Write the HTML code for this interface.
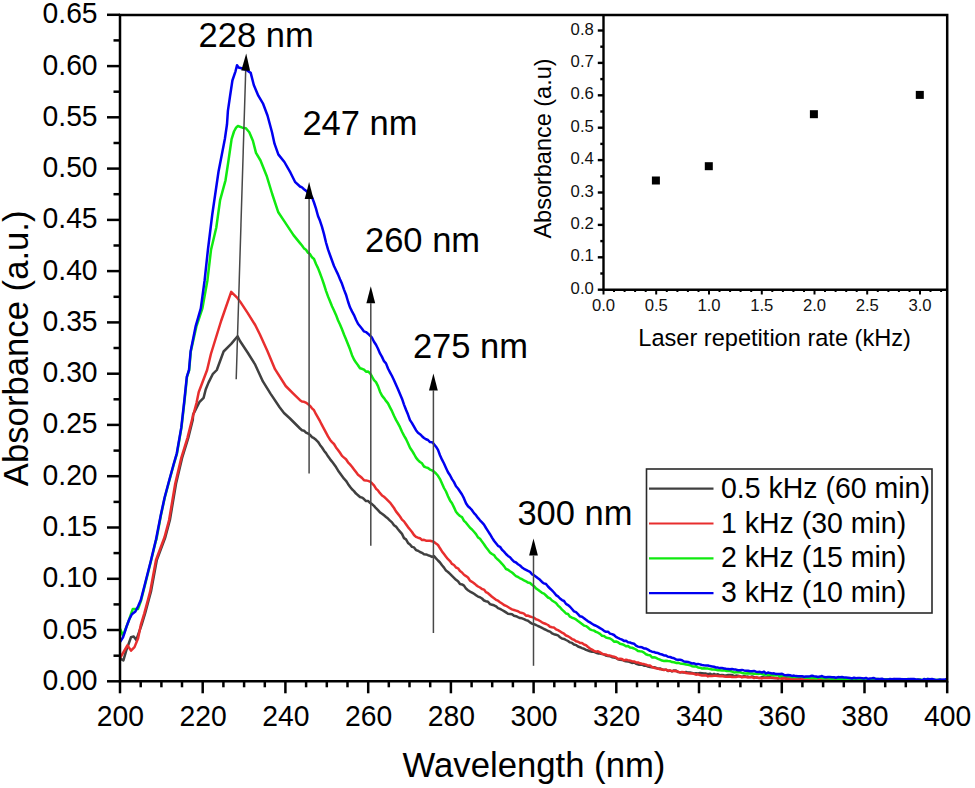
<!DOCTYPE html>
<html><head><meta charset="utf-8"><style>
html,body{margin:0;padding:0;background:#fff;width:975px;height:788px;overflow:hidden}
svg{display:block}
</style></head><body>
<svg width="975" height="788" viewBox="0 0 975 788">
<rect width="975" height="788" fill="#fff"/>
<polyline fill="none" stroke="#404040" stroke-width="2.5" stroke-linejoin="round" stroke-linecap="round" points="120.3,658.6 123.4,660.4 126.5,649.7 131.0,637.3 133.7,636.4 136.3,640.0 141.6,624.9 145.1,613.3 148.7,600.0 151.0,591.4 156.8,560.0 165.3,537.2 169.9,520.0 176.0,483.8 182.1,457.9 188.2,438.1 192.8,419.8 193.1,414.6 199.4,402.1 203.6,397.9 205.7,389.5 208.5,382.6 212.7,374.2 216.8,370.0 223.6,351.5 231.2,343.9 237.6,336.3 240.0,341.0 247.6,352.5 255.2,364.7 262.9,381.4 270.5,393.6 279.6,407.3 284.0,413.0 290.0,418.5 300.0,428.5 302.0,430.3 304.0,430.7 306.0,432.7 308.0,433.5 310.0,434.7 312.0,437.1 314.0,438.2 316.0,439.8 318.0,441.8 320.0,444.9 322.0,447.5 324.0,450.7 326.0,453.1 328.0,456.3 330.0,459.1 332.0,461.6 334.0,464.3 336.0,467.1 338.0,470.4 340.0,473.2 342.0,475.9 344.0,478.7 346.0,480.8 348.0,483.9 350.0,486.7 352.0,489.3 354.0,491.1 356.0,493.6 358.0,495.2 360.0,497.0 362.0,497.6 364.0,499.1 366.0,501.1 368.0,500.9 370.0,502.9 372.0,504.1 374.0,505.9 376.0,508.2 378.0,510.2 380.0,512.4 382.0,513.7 384.0,515.3 386.0,517.0 388.0,518.6 390.0,520.6 392.0,522.4 394.0,525.3 396.0,526.6 398.0,529.2 400.0,531.6 402.0,533.9 404.0,538.1 406.0,539.4 408.0,542.9 410.0,544.5 412.0,546.9 414.0,547.4 416.0,550.1 418.0,550.8 420.0,552.0 422.0,552.8 424.0,554.2 426.0,554.4 428.0,555.2 430.0,555.9 432.0,556.9 434.0,556.1 436.0,558.4 438.0,560.5 440.0,562.5 442.0,565.3 444.0,567.6 446.0,570.6 448.0,572.0 450.0,573.9 452.0,575.9 454.0,577.8 456.0,579.8 458.0,581.3 460.0,584.1 462.0,584.4 464.0,585.6 466.0,588.6 468.0,590.2 470.0,591.6 472.0,592.6 474.0,593.8 476.0,595.2 478.0,596.6 480.0,597.3 482.0,598.5 484.0,600.5 486.0,601.2 488.0,601.8 490.0,604.1 492.0,604.7 494.0,605.3 496.0,606.3 498.0,608.1 500.0,608.9 502.0,610.0 504.0,611.1 506.0,612.4 508.0,613.7 510.0,613.9 512.0,614.2 514.0,615.7 516.0,616.2 518.0,617.2 520.0,618.1 522.0,618.3 524.0,619.1 526.0,620.1 528.0,620.7 530.0,622.4 532.0,623.6 534.0,624.2 536.0,625.0 538.0,626.0 540.0,626.9 542.0,627.9 544.0,629.0 546.0,629.9 548.0,631.0 550.0,631.6 552.0,633.3 554.0,634.2 556.0,634.8 558.0,635.4 560.0,637.2 562.0,638.6 564.0,638.9 566.0,640.0 568.0,641.0 570.0,642.4 572.0,642.9 574.0,644.5 576.0,645.1 578.0,646.5 580.0,647.2 582.0,648.1 584.0,648.7 586.0,649.9 588.0,650.5 590.0,651.3 592.0,651.7 594.0,651.8 596.0,652.7 598.0,653.4 600.0,653.5 602.0,653.9 604.0,654.5 606.0,655.6 608.0,656.1 610.0,656.2 612.0,657.2 614.0,657.5 616.0,658.0 618.0,659.3 620.0,659.8 622.0,659.9 624.0,660.7 626.0,661.3 628.0,661.4 630.0,662.1 632.0,662.9 634.0,662.5 636.0,663.7 638.0,664.4 640.0,664.8 642.0,664.7 644.0,665.7 646.0,665.7 648.0,666.6 650.0,667.0 652.0,667.3 654.0,667.3 656.0,667.8 658.0,668.7 660.0,668.5 662.0,669.4 664.0,669.7 666.0,669.8 668.0,671.0 670.0,670.5 672.0,671.5 674.0,670.4 676.0,670.6 678.0,672.0 680.0,672.2 682.0,672.2 684.0,672.6 686.0,672.0 688.0,672.6 690.0,672.5 692.0,672.9 694.0,673.4 696.0,673.2 698.0,673.4 700.0,673.1 702.0,673.3 704.0,673.6 706.0,673.6 708.0,674.3 710.0,673.7 712.0,674.8 714.0,673.9 716.0,674.8 718.0,674.3 720.0,675.3 722.0,674.9 724.0,675.2 726.0,675.4 728.0,675.1 730.0,675.1 732.0,674.9 734.0,676.2 736.0,675.6 738.0,675.8 740.0,676.2 742.0,677.0 744.0,675.9 746.0,676.7 748.0,676.6 750.0,677.1 752.0,676.4 754.0,677.0 756.0,677.5 758.0,677.8 760.0,677.9 762.0,677.1 764.0,677.5 766.0,677.5 768.0,677.2 770.0,677.2 772.0,678.1 774.0,678.0 776.0,677.9 778.0,678.5 780.0,677.8 782.0,678.4 784.0,678.3 786.0,678.3 788.0,678.6 790.0,678.6 792.0,678.7 794.0,678.8 796.0,679.4 798.0,678.7 800.0,679.3 802.0,679.2 804.0,678.9 806.0,679.3 808.0,678.8 810.0,679.5 812.0,678.8 814.0,678.9 816.0,679.3 818.0,679.5 820.0,679.5 822.0,679.5 824.0,679.1 826.0,678.9 828.0,679.5 830.0,679.4 832.0,679.0 834.0,679.7 836.0,679.4 838.0,679.0 840.0,679.5 842.0,678.9 844.0,679.1 846.0,679.6 848.0,678.9 850.0,679.5 852.0,679.0 854.0,679.8 856.0,679.3 858.0,679.6 860.0,679.1 862.0,679.5 864.0,680.0 866.0,679.8 868.0,679.0 870.0,680.0 872.0,680.0 874.0,679.6 876.0,680.3 878.0,679.4 880.0,679.8 882.0,680.2 884.0,680.3 886.0,680.3 888.0,679.5 890.0,679.3 892.0,680.1 894.0,679.4 896.0,679.9 898.0,679.5 900.0,680.4 902.0,680.3 904.0,680.2 906.0,680.1 908.0,680.1 910.0,680.0 912.0,680.3 914.0,680.2 916.0,680.3 918.0,680.0 920.0,680.5 922.0,680.3 924.0,680.5 926.0,680.5 928.0,680.0 930.0,679.7 932.0,680.5 934.0,680.2 936.0,680.4 938.0,680.3 940.0,680.5 942.0,680.0 944.0,680.4 946.0,680.3"/>
<polyline fill="none" stroke="#e82e2e" stroke-width="2.5" stroke-linejoin="round" stroke-linecap="round" points="120.3,657.7 123.9,651.5 127.4,645.3 131.0,650.6 134.5,647.1 138.1,638.2 140.8,624.9 144.3,613.3 147.9,600.0 150.2,591.4 156.0,560.0 164.5,537.2 169.1,520.0 175.2,483.8 181.3,457.9 187.4,438.1 192.0,419.8 196.5,403.0 198.7,392.3 207.1,370.0 210.9,354.0 221.1,321.0 231.2,291.9 237.6,298.2 240.0,301.4 247.6,312.9 255.2,325.0 259.8,334.2 267.4,351.0 275.0,369.2 285.7,386.0 293.3,393.6 300.0,400.2 302.0,401.6 304.0,401.8 306.0,402.7 308.0,404.1 310.0,405.9 312.0,408.3 314.0,410.2 316.0,414.2 318.0,417.6 320.0,421.2 322.0,425.1 324.0,428.9 326.0,432.6 328.0,436.3 330.0,439.7 332.0,442.1 334.0,444.0 336.0,447.4 338.0,450.0 340.0,452.8 342.0,455.9 344.0,457.6 346.0,459.3 348.0,462.3 350.0,464.4 352.0,466.7 354.0,469.4 356.0,472.1 358.0,474.7 360.0,476.2 362.0,478.0 364.0,480.2 366.0,480.4 368.0,480.9 370.0,481.6 372.0,483.3 374.0,485.3 376.0,488.7 378.0,490.4 380.0,493.2 382.0,495.4 384.0,496.8 386.0,498.6 388.0,500.6 390.0,502.6 392.0,505.2 394.0,508.0 396.0,511.4 398.0,513.9 400.0,516.5 402.0,519.6 404.0,521.4 406.0,524.3 408.0,527.1 410.0,529.5 412.0,532.0 414.0,535.0 416.0,536.9 418.0,537.7 420.0,538.3 422.0,539.9 424.0,539.8 426.0,540.7 428.0,540.7 430.0,540.7 432.0,541.3 434.0,541.9 436.0,543.5 438.0,545.0 440.0,548.3 442.0,551.4 444.0,554.1 446.0,556.7 448.0,559.2 450.0,561.1 452.0,563.9 454.0,565.0 456.0,567.5 458.0,568.3 460.0,571.1 462.0,572.5 464.0,574.8 466.0,576.1 468.0,577.5 470.0,580.7 472.0,581.8 474.0,583.2 476.0,584.9 478.0,586.5 480.0,587.5 482.0,589.0 484.0,589.6 486.0,592.2 488.0,593.2 490.0,595.0 492.0,596.8 494.0,598.3 496.0,599.8 498.0,600.7 500.0,602.2 502.0,603.6 504.0,605.0 506.0,605.8 508.0,607.0 510.0,608.2 512.0,609.4 514.0,610.0 516.0,610.6 518.0,611.2 520.0,612.5 522.0,612.9 524.0,613.6 526.0,615.7 528.0,615.6 530.0,616.5 532.0,617.1 534.0,617.6 536.0,619.3 538.0,619.9 540.0,621.0 542.0,622.3 544.0,623.3 546.0,624.0 548.0,625.0 550.0,626.7 552.0,627.2 554.0,627.6 556.0,629.3 558.0,630.2 560.0,631.3 562.0,632.7 564.0,633.7 566.0,635.5 568.0,636.2 570.0,637.5 572.0,639.1 574.0,639.8 576.0,641.3 578.0,641.7 580.0,642.9 582.0,643.0 584.0,644.5 586.0,645.2 588.0,647.0 590.0,648.6 592.0,649.6 594.0,650.9 596.0,651.7 598.0,651.3 600.0,652.3 602.0,653.8 604.0,654.4 606.0,654.5 608.0,655.6 610.0,655.6 612.0,656.3 614.0,656.7 616.0,657.5 618.0,659.0 620.0,658.8 622.0,659.1 624.0,660.4 626.0,659.8 628.0,660.3 630.0,660.6 632.0,661.3 634.0,661.4 636.0,662.4 638.0,662.4 640.0,663.3 642.0,663.8 644.0,664.1 646.0,664.6 648.0,665.6 650.0,665.5 652.0,667.0 654.0,667.7 656.0,668.3 658.0,668.6 660.0,669.2 662.0,669.3 664.0,670.1 666.0,669.6 668.0,670.7 670.0,670.4 672.0,671.1 674.0,671.1 676.0,671.3 678.0,671.5 680.0,672.5 682.0,671.9 684.0,672.2 686.0,673.0 688.0,673.3 690.0,673.5 692.0,673.4 694.0,673.8 696.0,674.7 698.0,674.3 700.0,675.1 702.0,675.5 704.0,675.6 706.0,675.2 708.0,676.4 710.0,675.9 712.0,676.0 714.0,675.8 716.0,675.7 718.0,676.0 720.0,676.3 722.0,676.0 724.0,676.4 726.0,676.8 728.0,676.7 730.0,676.5 732.0,677.0 734.0,677.1 736.0,677.1 738.0,676.6 740.0,676.3 742.0,677.3 744.0,677.1 746.0,677.1 748.0,677.4 750.0,677.2 752.0,677.2 754.0,678.1 756.0,677.0 758.0,677.9 760.0,678.1 762.0,678.4 764.0,677.9 766.0,678.1 768.0,677.7 770.0,678.1 772.0,677.4 774.0,678.0 776.0,678.3 778.0,678.3 780.0,678.2 782.0,678.9 784.0,678.0 786.0,678.7 788.0,678.5 790.0,678.8 792.0,678.8 794.0,679.6 796.0,678.6 798.0,679.5 800.0,679.6 802.0,679.1 804.0,679.0 806.0,678.8 808.0,678.9 810.0,680.0 812.0,678.5 814.0,679.5 816.0,679.1 818.0,680.0 820.0,679.5 822.0,678.9 824.0,679.2 826.0,679.5 828.0,679.5 830.0,679.1 832.0,679.4 834.0,679.3 836.0,679.7 838.0,679.6 840.0,679.6 842.0,679.4 844.0,679.8 846.0,679.4 848.0,679.3 850.0,679.5 852.0,679.5 854.0,679.6 856.0,679.0 858.0,680.2 860.0,679.9 862.0,680.2 864.0,679.6 866.0,680.0 868.0,679.9 870.0,679.8 872.0,680.5 874.0,679.6 876.0,680.1 878.0,679.3 880.0,680.1 882.0,679.9 884.0,679.6 886.0,679.7 888.0,679.2 890.0,679.6 892.0,680.1 894.0,679.1 896.0,680.4 898.0,680.4 900.0,679.8 902.0,679.6 904.0,679.6 906.0,679.7 908.0,679.9 910.0,680.5 912.0,679.8 914.0,680.5 916.0,680.5 918.0,679.9 920.0,680.2 922.0,680.5 924.0,680.1 926.0,680.5 928.0,680.5 930.0,680.3 932.0,680.1 934.0,680.5 936.0,680.5 938.0,680.2 940.0,680.4 942.0,680.5 944.0,680.5 946.0,680.5"/>
<polyline fill="none" stroke="#10ea10" stroke-width="2.5" stroke-linejoin="round" stroke-linecap="round" points="120.3,629.3 123.0,635.5 126.0,628.0 129.0,620.0 132.8,608.9 138.1,608.9 141.2,600.0 144.8,585.7 151.0,561.0 156.2,539.5 156.3,540.0 161.0,515.0 164.8,497.5 169.3,480.7 173.9,464.0 177.0,453.3 181.5,427.4 184.6,400.0 187.0,376.9 189.2,370.0 190.8,351.5 196.5,326.1 202.4,308.4 207.4,280.5 211.0,250.0 216.3,227.5 220.1,200.1 225.5,180.3 228.5,160.5 231.6,139.1 234.0,131.5 236.1,127.7 237.9,126.0 242.4,127.7 245.9,128.3 249.3,132.3 252.9,140.7 256.0,152.9 260.5,160.5 266.6,175.7 272.2,194.0 278.3,212.3 284.4,221.4 293.5,235.1 300.0,243.1 302.0,245.5 304.0,248.4 306.0,249.7 308.0,252.7 310.0,254.1 312.0,257.3 314.0,259.0 316.0,264.0 318.0,268.1 320.0,273.2 322.0,278.6 324.0,284.5 326.0,290.8 328.0,296.4 330.0,301.3 332.0,306.2 334.0,310.5 336.0,314.9 338.0,320.3 340.0,324.5 342.0,329.3 344.0,334.5 346.0,339.3 348.0,344.3 350.0,349.3 352.0,355.2 354.0,359.5 356.0,362.6 358.0,365.2 360.0,368.2 362.0,368.8 364.0,369.7 366.0,371.7 368.0,371.4 370.0,373.2 372.0,376.5 374.0,380.1 376.0,382.1 378.0,386.1 380.0,391.7 382.0,395.6 384.0,398.1 386.0,400.9 388.0,403.4 390.0,407.4 392.0,411.2 394.0,415.8 396.0,419.9 398.0,423.4 400.0,427.2 402.0,431.7 404.0,435.6 406.0,439.0 408.0,443.2 410.0,447.7 412.0,450.7 414.0,454.0 416.0,457.6 418.0,460.1 420.0,462.0 422.0,463.3 424.0,466.5 426.0,467.4 428.0,468.0 430.0,469.6 432.0,470.4 434.0,471.6 436.0,473.5 438.0,475.8 440.0,479.1 442.0,483.5 444.0,488.0 446.0,491.5 448.0,496.2 450.0,500.4 452.0,503.2 454.0,507.4 456.0,511.7 458.0,514.1 460.0,516.0 462.0,517.1 464.0,520.8 466.0,522.7 468.0,525.3 470.0,527.8 472.0,529.5 474.0,531.8 476.0,534.1 478.0,537.4 480.0,538.7 482.0,541.6 484.0,544.2 486.0,547.2 488.0,549.8 490.0,552.4 492.0,554.0 494.0,555.1 496.0,557.9 498.0,559.7 500.0,561.7 502.0,563.8 504.0,566.1 506.0,569.0 508.0,569.7 510.0,571.2 512.0,572.5 514.0,574.3 516.0,576.2 518.0,577.0 520.0,578.3 522.0,579.2 524.0,580.4 526.0,581.3 528.0,582.6 530.0,583.0 532.0,584.8 534.0,586.2 536.0,588.4 538.0,589.7 540.0,591.3 542.0,592.8 544.0,593.6 546.0,595.5 548.0,597.5 550.0,598.4 552.0,600.5 554.0,601.7 556.0,603.0 558.0,605.6 560.0,607.3 562.0,609.6 564.0,611.4 566.0,613.5 568.0,613.9 570.0,616.7 572.0,617.7 574.0,618.4 576.0,619.4 578.0,621.0 580.0,622.5 582.0,624.0 584.0,625.6 586.0,626.1 588.0,627.5 590.0,629.4 592.0,630.1 594.0,630.6 596.0,631.9 598.0,632.7 600.0,633.9 602.0,635.7 604.0,636.1 606.0,637.5 608.0,638.1 610.0,638.5 612.0,639.7 614.0,641.7 616.0,641.5 618.0,642.2 620.0,643.8 622.0,644.2 624.0,645.0 626.0,646.3 628.0,645.9 630.0,647.5 632.0,647.8 634.0,648.5 636.0,649.5 638.0,651.0 640.0,651.3 642.0,651.5 644.0,652.6 646.0,654.3 648.0,655.0 650.0,655.2 652.0,657.4 654.0,657.3 656.0,657.8 658.0,658.8 660.0,659.7 662.0,660.6 664.0,660.9 666.0,660.8 668.0,661.1 670.0,661.2 672.0,662.1 674.0,662.3 676.0,662.9 678.0,662.8 680.0,663.4 682.0,663.7 684.0,664.0 686.0,664.4 688.0,664.8 690.0,665.2 692.0,666.2 694.0,666.4 696.0,666.3 698.0,667.4 700.0,667.7 702.0,668.5 704.0,668.3 706.0,668.6 708.0,668.6 710.0,669.1 712.0,669.5 714.0,669.6 716.0,669.7 718.0,670.2 720.0,670.2 722.0,670.5 724.0,670.3 726.0,670.9 728.0,670.7 730.0,671.0 732.0,671.5 734.0,672.5 736.0,672.3 738.0,672.1 740.0,672.3 742.0,672.9 744.0,673.3 746.0,673.5 748.0,673.2 750.0,673.5 752.0,673.5 754.0,673.7 756.0,673.6 758.0,674.0 760.0,673.5 762.0,674.0 764.0,674.7 766.0,674.4 768.0,675.0 770.0,674.5 772.0,675.0 774.0,675.4 776.0,675.1 778.0,675.3 780.0,676.6 782.0,675.6 784.0,675.8 786.0,676.0 788.0,676.3 790.0,676.5 792.0,677.0 794.0,677.0 796.0,676.8 798.0,676.9 800.0,676.7 802.0,676.8 804.0,677.2 806.0,677.8 808.0,677.6 810.0,677.9 812.0,678.1 814.0,677.7 816.0,678.6 818.0,677.8 820.0,677.8 822.0,677.9 824.0,678.6 826.0,678.2 828.0,678.0 830.0,678.5 832.0,678.8 834.0,678.5 836.0,678.5 838.0,679.0 840.0,679.1 842.0,679.1 844.0,678.6 846.0,679.0 848.0,679.1 850.0,678.4 852.0,679.6 854.0,679.2 856.0,679.1 858.0,680.0 860.0,679.3 862.0,679.0 864.0,679.3 866.0,679.5 868.0,679.6 870.0,679.3 872.0,679.0 874.0,679.1 876.0,679.1 878.0,679.0 880.0,679.4 882.0,679.3 884.0,679.5 886.0,679.2 888.0,679.2 890.0,679.4 892.0,679.4 894.0,680.0 896.0,679.2 898.0,679.7 900.0,679.6 902.0,679.1 904.0,679.9 906.0,679.7 908.0,678.9 910.0,679.9 912.0,680.0 914.0,679.4 916.0,680.3 918.0,679.8 920.0,679.4 922.0,680.0 924.0,679.7 926.0,679.3 928.0,679.1 930.0,679.9 932.0,679.6 934.0,680.1 936.0,680.0 938.0,679.7 940.0,679.8 942.0,680.5 944.0,680.5 946.0,680.3"/>
<polyline fill="none" stroke="#0000f0" stroke-width="2.5" stroke-linejoin="round" stroke-linecap="round" points="120.3,641.7 123.0,637.3 124.8,632.0 126.5,626.6 129.2,619.5 131.9,614.2 135.4,611.5 138.1,606.2 140.8,600.0 144.5,585.7 150.8,561.0 156.0,539.5 160.8,515.0 164.6,497.5 169.1,480.7 173.7,464.0 176.8,453.3 181.3,427.4 184.4,400.0 186.8,376.9 189.0,370.0 190.6,351.5 195.7,326.1 200.8,308.4 204.6,280.5 207.9,250.0 212.2,215.0 218.5,171.8 224.9,138.8 227.0,124.3 227.9,110.9 230.1,95.7 232.4,80.5 235.5,71.3 237.0,65.2 238.5,67.5 241.6,68.3 246.1,69.8 250.7,72.9 253.8,85.0 258.3,95.7 262.9,103.3 267.5,115.5 272.0,132.3 274.5,143.7 278.3,154.4 284.4,162.0 290.5,172.7 295.0,181.8 300.0,186.5 302.0,187.4 304.0,189.2 306.0,190.8 308.0,192.5 310.0,194.5 312.0,197.3 314.0,202.5 316.0,208.6 318.0,216.0 320.0,220.8 322.0,226.8 324.0,234.1 326.0,242.5 328.0,249.4 330.0,255.0 332.0,260.5 334.0,266.0 336.0,270.3 338.0,274.4 340.0,279.3 342.0,283.8 344.0,289.6 346.0,294.7 348.0,301.5 350.0,307.3 352.0,311.4 354.0,315.1 356.0,319.8 358.0,323.8 360.0,326.2 362.0,328.7 364.0,331.4 366.0,332.1 368.0,333.7 370.0,335.7 372.0,337.7 374.0,341.8 376.0,344.8 378.0,348.8 380.0,353.4 382.0,356.9 384.0,361.2 386.0,363.4 388.0,368.5 390.0,372.3 392.0,376.0 394.0,380.3 396.0,384.8 398.0,389.3 400.0,394.1 402.0,398.7 404.0,404.6 406.0,409.8 408.0,414.6 410.0,420.1 412.0,423.1 414.0,426.7 416.0,430.2 418.0,432.8 420.0,434.2 422.0,436.2 424.0,438.0 426.0,439.3 428.0,440.0 430.0,442.1 432.0,442.2 434.0,444.2 436.0,446.7 438.0,449.9 440.0,455.2 442.0,459.7 444.0,463.5 446.0,467.9 448.0,472.2 450.0,475.2 452.0,479.1 454.0,482.1 456.0,486.2 458.0,488.5 460.0,491.5 462.0,494.5 464.0,498.4 466.0,503.2 468.0,506.2 470.0,508.0 472.0,510.2 474.0,513.1 476.0,515.2 478.0,517.9 480.0,520.3 482.0,522.4 484.0,524.6 486.0,528.0 488.0,531.1 490.0,534.2 492.0,537.6 494.0,540.7 496.0,543.3 498.0,545.8 500.0,546.8 502.0,549.8 504.0,551.6 506.0,554.0 508.0,555.9 510.0,557.3 512.0,559.6 514.0,561.6 516.0,562.5 518.0,564.2 520.0,565.5 522.0,567.4 524.0,568.8 526.0,569.8 528.0,570.9 530.0,571.9 532.0,574.3 534.0,575.2 536.0,576.7 538.0,578.3 540.0,579.8 542.0,581.9 544.0,583.4 546.0,584.0 548.0,586.5 550.0,588.5 552.0,590.4 554.0,592.5 556.0,595.1 558.0,596.4 560.0,598.5 562.0,600.1 564.0,601.0 566.0,603.9 568.0,605.1 570.0,606.7 572.0,609.0 574.0,611.4 576.0,612.2 578.0,614.1 580.0,616.3 582.0,616.8 584.0,618.2 586.0,619.8 588.0,621.3 590.0,622.4 592.0,623.7 594.0,625.0 596.0,625.7 598.0,626.9 600.0,628.1 602.0,629.3 604.0,630.8 606.0,631.8 608.0,631.7 610.0,633.6 612.0,634.1 614.0,635.0 616.0,636.9 618.0,637.9 620.0,638.8 622.0,639.6 624.0,640.9 626.0,640.7 628.0,642.2 630.0,642.5 632.0,643.3 634.0,643.7 636.0,645.7 638.0,646.6 640.0,647.1 642.0,647.3 644.0,648.4 646.0,648.6 648.0,649.6 650.0,650.9 652.0,651.7 654.0,652.0 656.0,652.8 658.0,653.1 660.0,654.0 662.0,654.5 664.0,655.4 666.0,655.6 668.0,656.8 670.0,657.0 672.0,657.7 674.0,658.2 676.0,659.4 678.0,659.8 680.0,659.8 682.0,660.3 684.0,661.5 686.0,661.7 688.0,662.0 690.0,662.6 692.0,663.5 694.0,663.3 696.0,664.2 698.0,663.9 700.0,664.4 702.0,665.0 704.0,665.3 706.0,665.4 708.0,665.5 710.0,666.1 712.0,666.4 714.0,666.8 716.0,667.5 718.0,667.6 720.0,668.1 722.0,668.0 724.0,668.4 726.0,668.8 728.0,669.0 730.0,669.3 732.0,668.9 734.0,669.5 736.0,669.6 738.0,670.2 740.0,670.2 742.0,669.9 744.0,670.4 746.0,670.7 748.0,670.7 750.0,671.3 752.0,671.2 754.0,670.9 756.0,671.7 758.0,672.1 760.0,671.8 762.0,672.6 764.0,671.6 766.0,673.5 768.0,672.5 770.0,673.1 772.0,673.4 774.0,673.3 776.0,674.1 778.0,673.9 780.0,673.9 782.0,673.7 784.0,674.9 786.0,675.3 788.0,674.9 790.0,675.3 792.0,675.9 794.0,675.6 796.0,676.1 798.0,676.2 800.0,676.3 802.0,676.3 804.0,676.7 806.0,676.4 808.0,676.4 810.0,676.2 812.0,675.7 814.0,676.2 816.0,676.5 818.0,677.0 820.0,676.6 822.0,676.0 824.0,677.0 826.0,677.3 828.0,677.0 830.0,677.1 832.0,677.2 834.0,677.2 836.0,677.8 838.0,677.1 840.0,677.2 842.0,677.1 844.0,677.5 846.0,677.6 848.0,677.7 850.0,678.1 852.0,678.5 854.0,677.7 856.0,678.3 858.0,678.0 860.0,678.1 862.0,678.2 864.0,678.5 866.0,677.9 868.0,679.0 870.0,678.5 872.0,678.3 874.0,678.0 876.0,679.0 878.0,678.9 880.0,679.0 882.0,678.8 884.0,679.4 886.0,679.4 888.0,679.6 890.0,679.0 892.0,679.3 894.0,678.9 896.0,679.1 898.0,679.0 900.0,679.1 902.0,679.2 904.0,679.2 906.0,679.2 908.0,679.3 910.0,679.1 912.0,679.0 914.0,679.1 916.0,679.5 918.0,679.6 920.0,679.7 922.0,680.2 924.0,679.0 926.0,679.7 928.0,678.9 930.0,679.2 932.0,679.1 934.0,679.4 936.0,679.9 938.0,680.0 940.0,679.6 942.0,679.8 944.0,679.6 946.0,679.1"/>
<g stroke="#000" stroke-width="2.5" fill="none">
<path d="M120.0 15.0 H947.2 V681.3 H120.0 Z"/>
<path d="M107 681.3 H120.0"/>
<path d="M113.5 655.7 H120.0"/>
<path d="M107 630.0 H120.0"/>
<path d="M113.5 604.4 H120.0"/>
<path d="M107 578.8 H120.0"/>
<path d="M113.5 553.1 H120.0"/>
<path d="M107 527.5 H120.0"/>
<path d="M113.5 501.9 H120.0"/>
<path d="M107 476.2 H120.0"/>
<path d="M113.5 450.6 H120.0"/>
<path d="M107 424.9 H120.0"/>
<path d="M113.5 399.3 H120.0"/>
<path d="M107 373.7 H120.0"/>
<path d="M113.5 348.0 H120.0"/>
<path d="M107 322.4 H120.0"/>
<path d="M113.5 296.8 H120.0"/>
<path d="M107 271.1 H120.0"/>
<path d="M113.5 245.5 H120.0"/>
<path d="M107 219.9 H120.0"/>
<path d="M113.5 194.2 H120.0"/>
<path d="M107 168.6 H120.0"/>
<path d="M113.5 143.0 H120.0"/>
<path d="M107 117.3 H120.0"/>
<path d="M113.5 91.7 H120.0"/>
<path d="M107 66.1 H120.0"/>
<path d="M113.5 40.4 H120.0"/>
<path d="M107 14.8 H120.0"/>
<path d="M120.0 681.3 V693.3"/>
<path d="M140.7 681.3 V687.3"/>
<path d="M161.4 681.3 V687.3"/>
<path d="M182.0 681.3 V687.3"/>
<path d="M202.7 681.3 V693.3"/>
<path d="M223.4 681.3 V687.3"/>
<path d="M244.1 681.3 V687.3"/>
<path d="M264.8 681.3 V687.3"/>
<path d="M285.4 681.3 V693.3"/>
<path d="M306.1 681.3 V687.3"/>
<path d="M326.8 681.3 V687.3"/>
<path d="M347.5 681.3 V687.3"/>
<path d="M368.2 681.3 V693.3"/>
<path d="M388.8 681.3 V687.3"/>
<path d="M409.5 681.3 V687.3"/>
<path d="M430.2 681.3 V687.3"/>
<path d="M450.9 681.3 V693.3"/>
<path d="M471.6 681.3 V687.3"/>
<path d="M492.2 681.3 V687.3"/>
<path d="M512.9 681.3 V687.3"/>
<path d="M533.6 681.3 V693.3"/>
<path d="M554.3 681.3 V687.3"/>
<path d="M575.0 681.3 V687.3"/>
<path d="M595.6 681.3 V687.3"/>
<path d="M616.3 681.3 V693.3"/>
<path d="M637.0 681.3 V687.3"/>
<path d="M657.7 681.3 V687.3"/>
<path d="M678.4 681.3 V687.3"/>
<path d="M699.0 681.3 V693.3"/>
<path d="M719.7 681.3 V687.3"/>
<path d="M740.4 681.3 V687.3"/>
<path d="M761.1 681.3 V687.3"/>
<path d="M781.8 681.3 V693.3"/>
<path d="M802.4 681.3 V687.3"/>
<path d="M823.1 681.3 V687.3"/>
<path d="M843.8 681.3 V687.3"/>
<path d="M864.5 681.3 V693.3"/>
<path d="M885.2 681.3 V687.3"/>
<path d="M905.8 681.3 V687.3"/>
<path d="M926.5 681.3 V687.3"/>
<path d="M947.2 681.3 V693.3"/>
</g>
<g font-family='"Liberation Sans", sans-serif'>
<text transform="translate(97.60 689.80) scale(1 1.040)" font-size="28.3" text-anchor="end" fill="#000">0.00</text>
<text transform="translate(97.60 638.53) scale(1 1.040)" font-size="28.3" text-anchor="end" fill="#000">0.05</text>
<text transform="translate(97.60 587.26) scale(1 1.040)" font-size="28.3" text-anchor="end" fill="#000">0.10</text>
<text transform="translate(97.60 535.99) scale(1 1.040)" font-size="28.3" text-anchor="end" fill="#000">0.15</text>
<text transform="translate(97.60 484.72) scale(1 1.040)" font-size="28.3" text-anchor="end" fill="#000">0.20</text>
<text transform="translate(97.60 433.45) scale(1 1.040)" font-size="28.3" text-anchor="end" fill="#000">0.25</text>
<text transform="translate(97.60 382.18) scale(1 1.040)" font-size="28.3" text-anchor="end" fill="#000">0.30</text>
<text transform="translate(97.60 330.91) scale(1 1.040)" font-size="28.3" text-anchor="end" fill="#000">0.35</text>
<text transform="translate(97.60 279.64) scale(1 1.040)" font-size="28.3" text-anchor="end" fill="#000">0.40</text>
<text transform="translate(97.60 228.37) scale(1 1.040)" font-size="28.3" text-anchor="end" fill="#000">0.45</text>
<text transform="translate(97.60 177.10) scale(1 1.040)" font-size="28.3" text-anchor="end" fill="#000">0.50</text>
<text transform="translate(97.60 125.83) scale(1 1.040)" font-size="28.3" text-anchor="end" fill="#000">0.55</text>
<text transform="translate(97.60 74.56) scale(1 1.040)" font-size="28.3" text-anchor="end" fill="#000">0.60</text>
<text transform="translate(97.60 23.29) scale(1 1.040)" font-size="28.3" text-anchor="end" fill="#000">0.65</text>
<text transform="translate(120.40 725.50) scale(1 1.040)" font-size="28.3" text-anchor="middle" fill="#000">200</text>
<text transform="translate(203.12 725.50) scale(1 1.040)" font-size="28.3" text-anchor="middle" fill="#000">220</text>
<text transform="translate(285.84 725.50) scale(1 1.040)" font-size="28.3" text-anchor="middle" fill="#000">240</text>
<text transform="translate(368.56 725.50) scale(1 1.040)" font-size="28.3" text-anchor="middle" fill="#000">260</text>
<text transform="translate(451.28 725.50) scale(1 1.040)" font-size="28.3" text-anchor="middle" fill="#000">280</text>
<text transform="translate(534.00 725.50) scale(1 1.040)" font-size="28.3" text-anchor="middle" fill="#000">300</text>
<text transform="translate(616.72 725.50) scale(1 1.040)" font-size="28.3" text-anchor="middle" fill="#000">320</text>
<text transform="translate(699.44 725.50) scale(1 1.040)" font-size="28.3" text-anchor="middle" fill="#000">340</text>
<text transform="translate(782.16 725.50) scale(1 1.040)" font-size="28.3" text-anchor="middle" fill="#000">360</text>
<text transform="translate(864.88 725.50) scale(1 1.040)" font-size="28.3" text-anchor="middle" fill="#000">380</text>
<text transform="translate(947.60 725.50) scale(1 1.040)" font-size="28.3" text-anchor="middle" fill="#000">400</text>
<text transform="translate(534.00 777.00) scale(1 1.000)" font-size="34.7" text-anchor="middle" fill="#000">Wavelength (nm)</text>
<text transform="translate(28.30 348.30) rotate(-90) scale(1 1.000)" font-size="34.7" text-anchor="middle" fill="#000">Absorbance (a.u.)</text>
<text transform="translate(198.60 46.80) scale(1 1.030)" font-size="34.5" text-anchor="start" fill="#000">228 nm</text>
<text transform="translate(302.40 134.70) scale(1 1.030)" font-size="34.5" text-anchor="start" fill="#000">247 nm</text>
<text transform="translate(365.00 252.00) scale(1 1.030)" font-size="34.5" text-anchor="start" fill="#000">260 nm</text>
<text transform="translate(412.90 358.30) scale(1 1.030)" font-size="34.5" text-anchor="start" fill="#000">275 nm</text>
<text transform="translate(517.40 525.20) scale(1 1.030)" font-size="34.5" text-anchor="start" fill="#000">300 nm</text>
</g>
<line x1="236.2" y1="379.2" x2="245.7" y2="70.6" stroke="#484848" stroke-width="1.5"/><path d="M246.2 53.6 L250.1 70.7 L241.3 70.5 Z" fill="#000"/>
<line x1="309.1" y1="473.5" x2="309.1" y2="199.1" stroke="#484848" stroke-width="1.5"/><path d="M309.1 182.1 L313.5 199.1 L304.7 199.1 Z" fill="#000"/>
<line x1="370.8" y1="545.8" x2="370.8" y2="303.2" stroke="#484848" stroke-width="1.5"/><path d="M370.8 286.2 L375.2 303.2 L366.4 303.2 Z" fill="#000"/>
<line x1="433.4" y1="633.0" x2="433.4" y2="390.4" stroke="#484848" stroke-width="1.5"/><path d="M433.4 373.4 L437.8 390.4 L429.0 390.4 Z" fill="#000"/>
<line x1="533.5" y1="665.8" x2="533.5" y2="555.6" stroke="#484848" stroke-width="1.5"/><path d="M533.5 538.6 L537.9 555.6 L529.1 555.6 Z" fill="#000"/>
<rect x="646.5" y="469" width="285.5" height="144" fill="#fff" stroke="#2a2a2a" stroke-width="1.6"/>
<g font-family='"Liberation Sans", sans-serif'>
<line x1="649" y1="488.7" x2="713.5" y2="488.7" stroke="#404040" stroke-width="2.2"/>
<text transform="translate(721.00 497.70) scale(1 1.010)" font-size="28.5" text-anchor="start" fill="#000">0.5 kHz (60 min)</text>
<line x1="649" y1="523.5" x2="713.5" y2="523.5" stroke="#e82e2e" stroke-width="2.2"/>
<text transform="translate(721.00 532.50) scale(1 1.010)" font-size="28.5" text-anchor="start" fill="#000">1 kHz (30 min)</text>
<line x1="649" y1="558.3" x2="713.5" y2="558.3" stroke="#10ea10" stroke-width="2.2"/>
<text transform="translate(721.00 567.30) scale(1 1.010)" font-size="28.5" text-anchor="start" fill="#000">2 kHz (15 min)</text>
<line x1="649" y1="593.1" x2="713.5" y2="593.1" stroke="#0000f0" stroke-width="2.2"/>
<text transform="translate(721.00 602.10) scale(1 1.010)" font-size="28.5" text-anchor="start" fill="#000">3 kHz (10 min)</text>
</g>
<g stroke="#000" stroke-width="2.4" fill="none">
<path d="M603.5 15 V289.7 H947.2"/>
<path d="M597.8 289.7 H603.5"/>
<path d="M600.3 273.5 H603.5"/>
<path d="M597.8 257.3 H603.5"/>
<path d="M600.3 241.1 H603.5"/>
<path d="M597.8 224.9 H603.5"/>
<path d="M600.3 208.7 H603.5"/>
<path d="M597.8 192.5 H603.5"/>
<path d="M600.3 176.3 H603.5"/>
<path d="M597.8 160.1 H603.5"/>
<path d="M600.3 143.9 H603.5"/>
<path d="M597.8 127.7 H603.5"/>
<path d="M600.3 111.5 H603.5"/>
<path d="M597.8 95.3 H603.5"/>
<path d="M600.3 79.1 H603.5"/>
<path d="M597.8 62.9 H603.5"/>
<path d="M600.3 46.7 H603.5"/>
<path d="M597.8 30.5 H603.5"/>
</g>
<g stroke="#000" stroke-width="2" fill="none">
<path d="M603.5 289.7 V294.5"/>
<path d="M614.0 289.7 V292.0"/>
<path d="M624.6 289.7 V292.0"/>
<path d="M635.1 289.7 V292.0"/>
<path d="M645.7 289.7 V292.0"/>
<path d="M656.2 289.7 V294.5"/>
<path d="M666.8 289.7 V292.0"/>
<path d="M677.4 289.7 V292.0"/>
<path d="M687.9 289.7 V292.0"/>
<path d="M698.5 289.7 V292.0"/>
<path d="M709.0 289.7 V294.5"/>
<path d="M719.5 289.7 V292.0"/>
<path d="M730.1 289.7 V292.0"/>
<path d="M740.6 289.7 V292.0"/>
<path d="M751.2 289.7 V292.0"/>
<path d="M761.8 289.7 V294.5"/>
<path d="M772.3 289.7 V292.0"/>
<path d="M782.9 289.7 V292.0"/>
<path d="M793.4 289.7 V292.0"/>
<path d="M804.0 289.7 V292.0"/>
<path d="M814.5 289.7 V294.5"/>
<path d="M825.0 289.7 V292.0"/>
<path d="M835.6 289.7 V292.0"/>
<path d="M846.2 289.7 V292.0"/>
<path d="M856.7 289.7 V292.0"/>
<path d="M867.2 289.7 V294.5"/>
<path d="M877.8 289.7 V292.0"/>
<path d="M888.4 289.7 V292.0"/>
<path d="M898.9 289.7 V292.0"/>
<path d="M909.5 289.7 V292.0"/>
<path d="M920.0 289.7 V294.5"/>
<path d="M930.5 289.7 V292.0"/>
<path d="M941.1 289.7 V292.0"/>
</g>
<g font-family='"Liberation Sans", sans-serif'>
<text transform="translate(593.80 293.80) scale(1 1.040)" font-size="16.7" text-anchor="end" fill="#111">0.0</text>
<text transform="translate(593.80 261.40) scale(1 1.040)" font-size="16.7" text-anchor="end" fill="#111">0.1</text>
<text transform="translate(593.80 229.00) scale(1 1.040)" font-size="16.7" text-anchor="end" fill="#111">0.2</text>
<text transform="translate(593.80 196.60) scale(1 1.040)" font-size="16.7" text-anchor="end" fill="#111">0.3</text>
<text transform="translate(593.80 164.20) scale(1 1.040)" font-size="16.7" text-anchor="end" fill="#111">0.4</text>
<text transform="translate(593.80 131.80) scale(1 1.040)" font-size="16.7" text-anchor="end" fill="#111">0.5</text>
<text transform="translate(593.80 99.40) scale(1 1.040)" font-size="16.7" text-anchor="end" fill="#111">0.6</text>
<text transform="translate(593.80 67.00) scale(1 1.040)" font-size="16.7" text-anchor="end" fill="#111">0.7</text>
<text transform="translate(593.80 34.60) scale(1 1.040)" font-size="16.7" text-anchor="end" fill="#111">0.8</text>
<text transform="translate(603.50 311.00) scale(1 1.040)" font-size="16.7" text-anchor="middle" fill="#111">0.0</text>
<text transform="translate(656.25 311.00) scale(1 1.040)" font-size="16.7" text-anchor="middle" fill="#111">0.5</text>
<text transform="translate(709.00 311.00) scale(1 1.040)" font-size="16.7" text-anchor="middle" fill="#111">1.0</text>
<text transform="translate(761.75 311.00) scale(1 1.040)" font-size="16.7" text-anchor="middle" fill="#111">1.5</text>
<text transform="translate(814.50 311.00) scale(1 1.040)" font-size="16.7" text-anchor="middle" fill="#111">2.0</text>
<text transform="translate(867.25 311.00) scale(1 1.040)" font-size="16.7" text-anchor="middle" fill="#111">2.5</text>
<text transform="translate(920.00 311.00) scale(1 1.040)" font-size="16.7" text-anchor="middle" fill="#111">3.0</text>
<text transform="translate(774.60 345.60) scale(1 1.030)" font-size="23.6" text-anchor="middle" fill="#000">Laser repetition rate (kHz)</text>
<text transform="translate(550.90 148.50) rotate(-90) scale(1 1.020)" font-size="23.5" text-anchor="middle" fill="#000">Absorbance (a.u)</text>
</g>
<rect x="651.9" y="176.5" width="8" height="8" fill="#000"/>
<rect x="704.8" y="162.2" width="8" height="8" fill="#000"/>
<rect x="809.9" y="110.2" width="8" height="8" fill="#000"/>
<rect x="915.8" y="90.9" width="8" height="8" fill="#000"/>
</svg>
</body></html>
